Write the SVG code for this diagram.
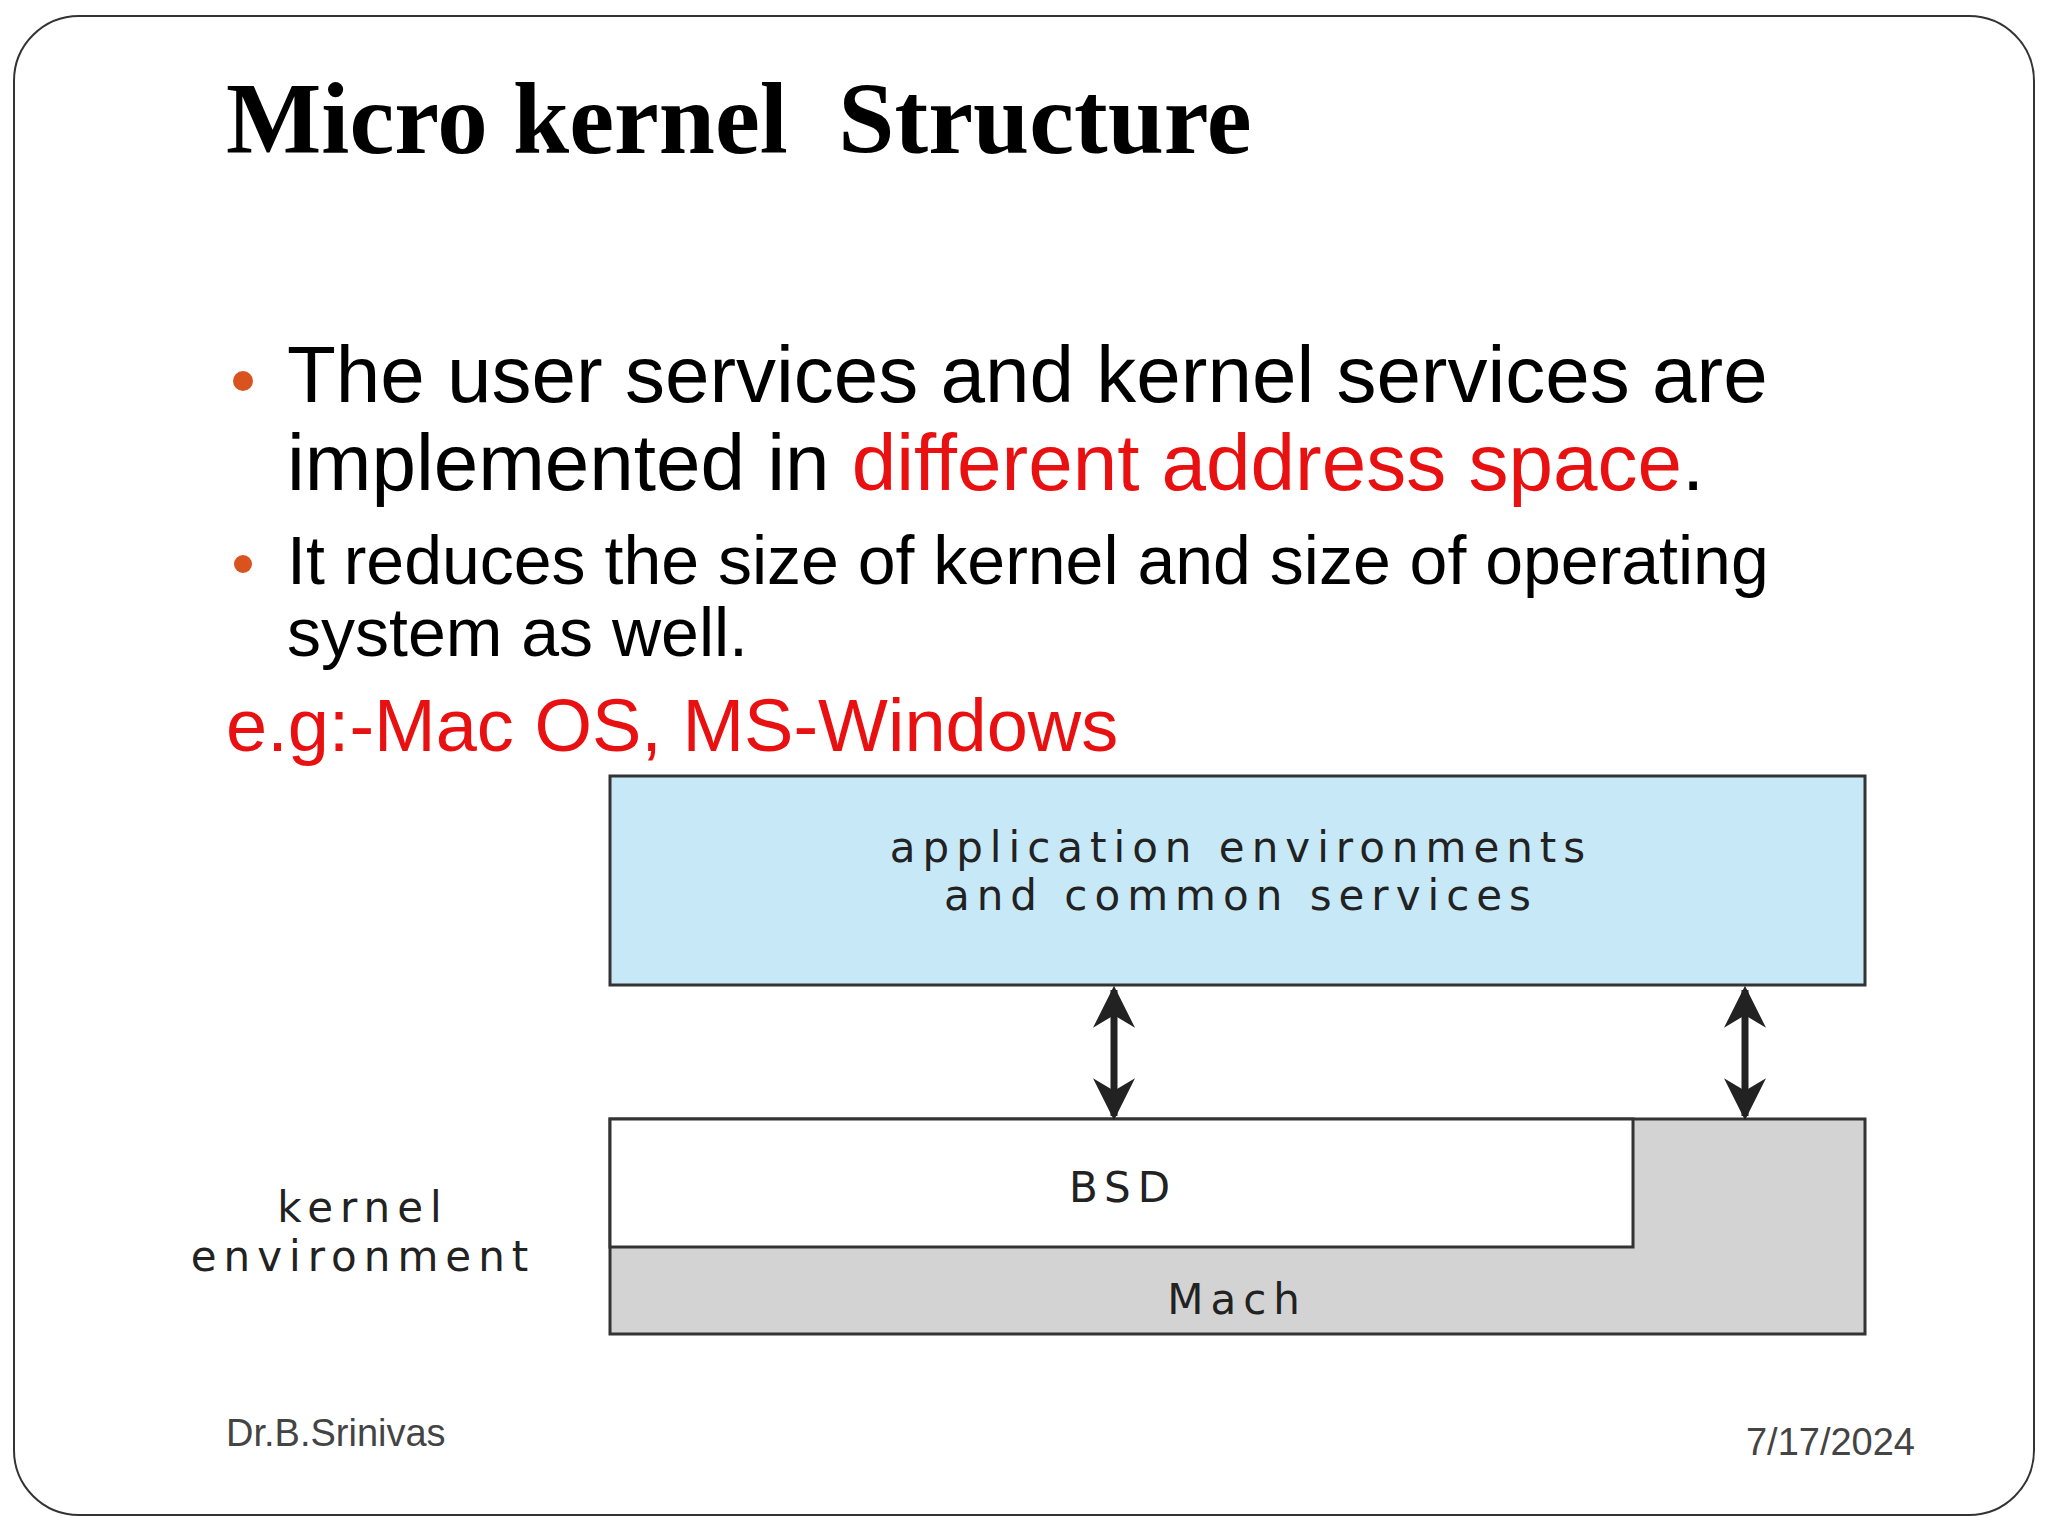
<svg xmlns="http://www.w3.org/2000/svg" width="2048" height="1536" viewBox="0 0 2048 1536">
<defs>
<style>
.s{font-family:"Liberation Sans",Arial,sans-serif}
.d{font-family:"DejaVu Sans","Liberation Sans",sans-serif;font-size:42px;letter-spacing:7px;fill:#222;text-anchor:middle}
.box{stroke:#333;stroke-width:3}
</style>
<marker id="ah" viewBox="0 0 10 10" refX="9" refY="5" markerWidth="6" markerHeight="7" orient="auto-start-reverse"><path d="M0,0 L10,5 L0,10 L3,5 z" fill="#222"/></marker>
</defs>
<rect width="2048" height="1536" fill="#fff"/>
<rect x="14" y="16" width="2020" height="1499" rx="65" fill="none" stroke="#333" stroke-width="2"/>
<text x="226" y="153" font-family="'Liberation Serif',serif" font-weight="bold" font-size="101" fill="#000" xml:space="preserve">Micro kernel  Structure</text>
<circle cx="243" cy="381" r="10" fill="#d9531e"/>
<text class="s" x="287" y="402" font-size="80" fill="#000">The user services and kernel services are</text>
<text class="s" x="287" y="490" font-size="80" fill="#000">implemented in <tspan fill="#e81010">different address space</tspan>.</text>
<circle cx="243" cy="564" r="9" fill="#d9531e"/>
<text class="s" x="287" y="584" font-size="68" fill="#000">It reduces the size of kernel and size of operating</text>
<text class="s" x="287" y="656" font-size="68" fill="#000">system as well.</text>
<text class="s" x="226" y="751" font-size="74" fill="#e81010">e.g:-Mac OS, MS-Windows</text>
<g id="app"><rect class="box" x="610" y="776" width="1255" height="209" fill="#c6e8f7"/>
<text class="d" x="1241" y="862">application environments</text>
<text class="d" x="1241" y="910">and common services</text></g>
<g id="mach"><rect class="box" x="610" y="1119" width="1255" height="215" fill="#d3d3d3"/>
<text class="d" x="1237" y="1314">Mach</text></g>
<g id="bsd"><rect class="box" x="610" y="1119" width="1023" height="128" fill="#fff"/>
<text class="d" x="1123" y="1202">BSD</text></g>
<g id="kenv"><text class="d" x="363" y="1222">kernel</text><text class="d" x="363" y="1271">environment</text></g>
<g id="connectors" stroke="#222" stroke-width="7" marker-start="url(#ah)" marker-end="url(#ah)">
<line x1="1114" y1="990" x2="1114" y2="1116"/>
<line x1="1745" y1="990" x2="1745" y2="1116"/>
</g>
<text class="s" x="226" y="1446" font-size="38" fill="#444">Dr.B.Srinivas</text>
<text class="s" x="1915" y="1455" font-size="38" fill="#444" text-anchor="end">7/17/2024</text>
</svg>
